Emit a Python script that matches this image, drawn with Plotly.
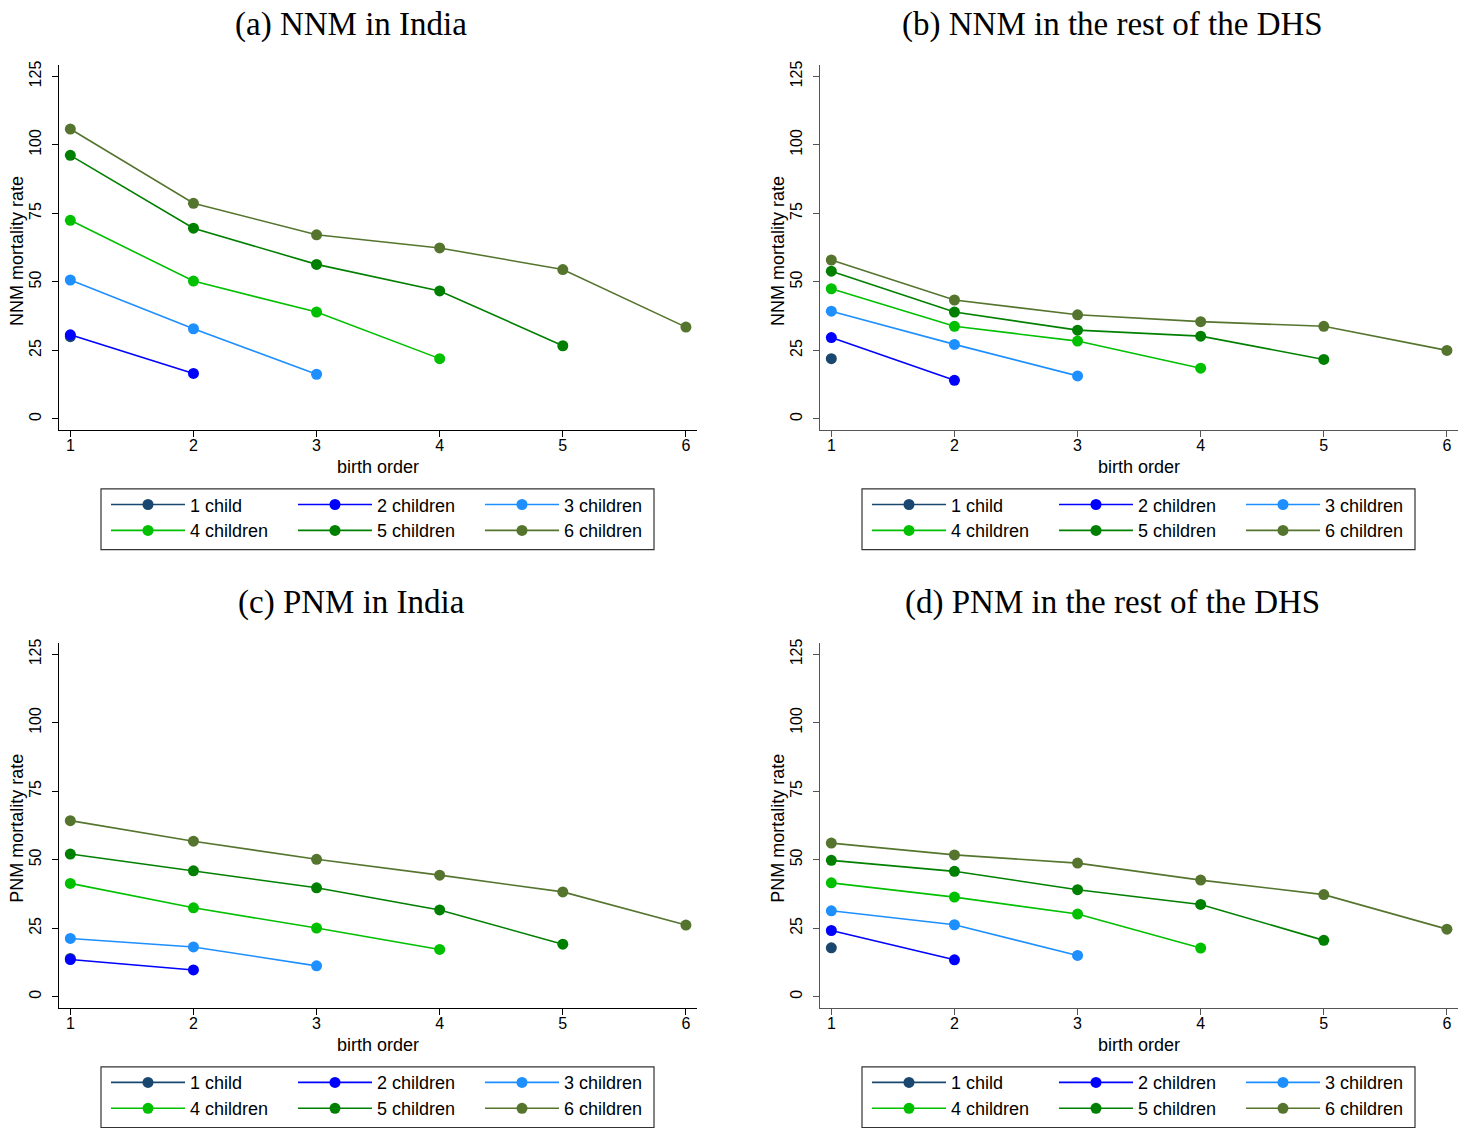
import plotly.graph_objects as go

# birth order on the x axis
birth_order = [1, 2, 3, 4, 5, 6]

series_names = ["1 child", "2 children", "3 children",
                "4 children", "5 children", "6 children"]
series_colors = ["#1a476f", "#0000ff", "#1e8fff",
                 "#00c000", "#008000", "#55752f"]

# values, one list per family size
nnm_india = [
    [30.0],
    [30.7, 16.6],
    [50.7, 32.9, 16.3],
    [72.5, 50.3, 39.0, 22.0],
    [96.2, 69.6, 56.4, 46.7, 26.7],
    [105.8, 78.7, 67.2, 62.4, 54.5, 33.5],
]
nnm_rest = [
    [22.0],
    [29.7, 14.1],
    [39.3, 27.2, 15.7],
    [47.5, 33.8, 28.4, 18.5],
    [53.9, 39.0, 32.4, 30.2, 21.7],
    [58.0, 43.4, 38.0, 35.5, 33.8, 25.0],
]
pnm_india = [
    [14.0],
    [13.6, 9.8],
    [21.3, 18.2, 11.3],
    [41.4, 32.5, 25.1, 17.3],
    [52.1, 46.0, 39.8, 31.7, 19.2],
    [64.3, 56.8, 50.2, 44.4, 38.3, 26.2],
]
pnm_rest = [
    [17.9],
    [24.2, 13.5],
    [31.4, 26.3, 15.1],
    [41.6, 36.4, 30.2, 17.8],
    [49.8, 45.8, 39.1, 33.7, 20.6],
    [56.1, 51.8, 48.8, 42.6, 37.3, 24.7],
]

panel_titles = ["(a) NNM in India", "(b) NNM in the rest of the DHS",
                "(c) PNM in India", "(d) PNM in the rest of the DHS"]
y_titles = ["NNM mortality rate", "NNM mortality rate",
            "PNM mortality rate", "PNM mortality rate"]
y_ticks = [0, 25, 50, 75, 100, 125]

# the page body has an 8px margin, so the figure is a bit smaller than the window
OFF = 8
W, H = 1471 - OFF, 1130 - OFF


def px(x):
    return (x - OFF) / W


def py(y):
    return 1 - (y - OFF) / H


panels = [nnm_india, nnm_rest, pnm_india, pnm_rest]
# pixel offsets of each panel (left column / right column, top row / bottom row)
dx = [0, 761, 0, 761]
dy = [0, 0, 580.5, 580.5]
axis_col = ["#000000", "#555555", "#000000", "#555555"]

fig = go.Figure()
sans = "Liberation Sans, Arial, sans-serif"

for p, data in enumerate(panels):
    ax = "" if p == 0 else str(p + 1)
    for i, vals in enumerate(data):
        leg_idx = 2 * p + (1 if i < 3 else 2)
        fig.add_trace(go.Scatter(
            x=birth_order[:len(vals)], y=vals,
            mode="lines+markers", name=series_names[i],
            line=dict(color=series_colors[i], width=1.6),
            marker=dict(color=series_colors[i], size=11),
            xaxis="x" + ax, yaxis="y" + ax,
            legend="legend" if leg_idx == 1 else f"legend{leg_idx}",
            showlegend=True,
        ))

    x0, x1 = 59 + dx[p], 697 + dx[p]
    y0, y1 = 60.7 + dy[p], 427 + dy[p]
    fig.update_layout(**{
        "xaxis" + ax: dict(
            domain=[px(x0), px(x1)], anchor="y" + ax,
            range=[0.908, 6.09], tickvals=birth_order,
            ticks="outside", ticklen=6, tickcolor=axis_col[p],
            showline=True, linecolor=axis_col[p], linewidth=1.3,
            showgrid=False, zeroline=False, ticklabelstandoff=-5,
            tickfont=dict(family=sans, size=16, color="#000"),
        ),
        "yaxis" + ax: dict(
            domain=[py(y1), py(y0)], anchor="x" + ax,
            range=[-4.1, 129.0], tickvals=y_ticks, tickangle=-90,
            ticks="outside", ticklen=6, tickcolor=axis_col[p],
            showline=True, linecolor=axis_col[p], linewidth=1.3,
            showgrid=False, zeroline=False, ticklabelstandoff=4,
            tickfont=dict(family=sans, size=16, color="#000"),
        ),
    })

    # titles
    fig.add_annotation(text=panel_titles[p], xref="paper", yref="paper",
                       x=px(351 + dx[p]), y=py(19.5 + dy[p]), showarrow=False,
                       xanchor="center", yanchor="middle", borderpad=0,
                       font=dict(family="Liberation Serif, serif", size=33, color="#000"))
    fig.add_annotation(text="birth order", xref="paper", yref="paper",
                       x=px(378 + dx[p]), y=py(464 + dy[p]), showarrow=False,
                       xanchor="center", yanchor="middle",
                       font=dict(family=sans, size=18, color="#000"))
    fig.add_annotation(text=y_titles[p], xref="paper", yref="paper",
                       x=px(17 + dx[p]), y=py(247 + dy[p]), showarrow=False,
                       xanchor="center", yanchor="middle", textangle=-90,
                       font=dict(family=sans, size=18, color="#000"))

    # legend box
    fig.add_shape(type="rect", xref="paper", yref="paper",
                  x0=px(101 + dx[p]), x1=px(654 + dx[p]),
                  y0=py(547 + dy[p]), y1=py(486 + dy[p]),
                  line=dict(color="#333", width=1.2))

    for r in range(2):
        k = 2 * p + r + 1
        fig.update_layout(**{
            ("legend" if k == 1 else f"legend{k}"): dict(
                orientation="h", xanchor="left", yanchor="middle",
                x=px(106 + dx[p]), y=py(502 + 26 * r + dy[p]),
                bgcolor="rgba(0,0,0,0)", borderwidth=0,
                itemwidth=74, entrywidth=98, traceorder="normal",
                font=dict(family=sans, size=18, color="#000"),
            )
        })

fig.update_layout(
    width=W, height=H,
    margin=dict(l=0, r=0, t=0, b=0),
    paper_bgcolor="white", plot_bgcolor="white",
)

fig.write_html("out.html")
